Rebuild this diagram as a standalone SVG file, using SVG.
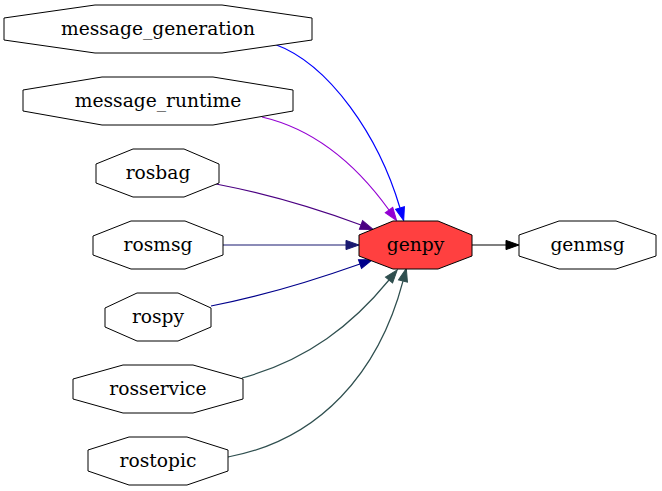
<svg xmlns="http://www.w3.org/2000/svg" width="662" height="491" viewBox="0 0 662 491">
<style>
.n polygon{fill:#ffffff;stroke:#000000;stroke-width:1}
#genpy polygon{fill:#ff4040}
.n text{font-family:"DejaVu Serif","Liberation Serif",serif;font-size:18.67px;text-anchor:middle;fill:#000}
.e path{fill:none;stroke-width:1.2}
</style>
<defs>
<marker id="a-blue" markerUnits="userSpaceOnUse" markerWidth="14" markerHeight="10" refX="0" refY="5" orient="auto" overflow="visible"><path d="M0,0.4 L13,5 L0,9.6 z" fill="#0000ff" stroke="#0000ff"/></marker>
<marker id="a-violet" markerUnits="userSpaceOnUse" markerWidth="14" markerHeight="10" refX="0" refY="5" orient="auto" overflow="visible"><path d="M0,0.4 L13,5 L0,9.6 z" fill="#9400d3" stroke="#9400d3"/></marker>
<marker id="a-indigo" markerUnits="userSpaceOnUse" markerWidth="14" markerHeight="10" refX="0" refY="5" orient="auto" overflow="visible"><path d="M0,0.4 L13,5 L0,9.6 z" fill="#4b0082" stroke="#4b0082"/></marker>
<marker id="a-mid" markerUnits="userSpaceOnUse" markerWidth="14" markerHeight="10" refX="0" refY="5" orient="auto" overflow="visible"><path d="M0,0.4 L13,5 L0,9.6 z" fill="#191970" stroke="#191970"/></marker>
<marker id="a-dark" markerUnits="userSpaceOnUse" markerWidth="14" markerHeight="10" refX="0" refY="5" orient="auto" overflow="visible"><path d="M0,0.4 L13,5 L0,9.6 z" fill="#00008b" stroke="#00008b"/></marker>
<marker id="a-slate" markerUnits="userSpaceOnUse" markerWidth="14" markerHeight="10" refX="0" refY="5" orient="auto" overflow="visible"><path d="M0,0.4 L13,5 L0,9.6 z" fill="#2f4f4f" stroke="#2f4f4f"/></marker>
<marker id="a-black" markerUnits="userSpaceOnUse" markerWidth="14" markerHeight="10" refX="0" refY="5" orient="auto" overflow="visible"><path d="M0,0.4 L13,5 L0,9.6 z" fill="#000000" stroke="#000000"/></marker>
</defs>
<rect width="662" height="491" fill="#ffffff"/>
<g id="edges" class="e">
<path d="M274,44 C330,64 379,137 400,208" stroke="#0000ff" marker-end="url(#a-blue)"/>
<path d="M262,117 C318,130 358,167 389,210" stroke="#9400d3" marker-end="url(#a-violet)"/>
<path d="M216,184 C263,193 312,207 361,225" stroke="#4b0082" marker-end="url(#a-indigo)"/>
<path d="M223,245 L346,245" stroke="#191970" marker-end="url(#a-mid)"/>
<path d="M211,306 C258,297 312,281 360,264" stroke="#00008b" marker-end="url(#a-dark)"/>
<path d="M242,378 C308,360 353,324 389,280" stroke="#2f4f4f" marker-end="url(#a-slate)"/>
<path d="M228,457 C320,440 379,372 403,281" stroke="#2f4f4f" marker-end="url(#a-slate)"/>
<path d="M472,245 L506,245" stroke="#000000" marker-end="url(#a-black)"/>
</g>
<g id="message_generation" class="n">
<polygon points="312,18 222,5 95,5 4,18 4,40 95,53 222,53 312,40"/>
<text x="158" y="35">message_generation</text>
</g>
<g id="message_runtime" class="n">
<polygon points="293,90 213,77 102,77 23,90 23,111 102,125 213,125 293,111"/>
<text x="158" y="107">message_runtime</text>
</g>
<g id="rosbag" class="n">
<polygon points="219,164 184,149 133,149 96,164 96,183 133,197 184,197 219,183"/>
<text x="158" y="179">rosbag</text>
</g>
<g id="rosmsg" class="n">
<polygon points="223,236 185,221 131,221 93,236 93,255 131,269 185,269 223,255"/>
<text x="158" y="251">rosmsg</text>
</g>
<g id="rospy" class="n">
<polygon points="211,308 178,293 137,293 105,308 105,327 137,341 178,341 211,327"/>
<text x="158" y="323">rospy</text>
</g>
<g id="rosservice" class="n">
<polygon points="243,379 193,365 123,365 73,379 73,399 123,413 193,413 243,399"/>
<text x="158" y="395">rosservice</text>
</g>
<g id="rostopic" class="n">
<polygon points="228,450 187,437 129,437 88,450 88,471 129,485 187,485 228,471"/>
<text x="158" y="467">rostopic</text>
</g>
<g id="genpy" class="n">
<polygon points="472,235 438,221 393,221 359,235 359,256 393,269 438,269 472,256"/>
<text x="415.5" y="251">genpy</text>
</g>
<g id="genmsg" class="n">
<polygon points="656,235 616,221 559,221 519,235 519,256 559,269 616,269 656,256"/>
<text x="587.5" y="251">genmsg</text>
</g>
</svg>
